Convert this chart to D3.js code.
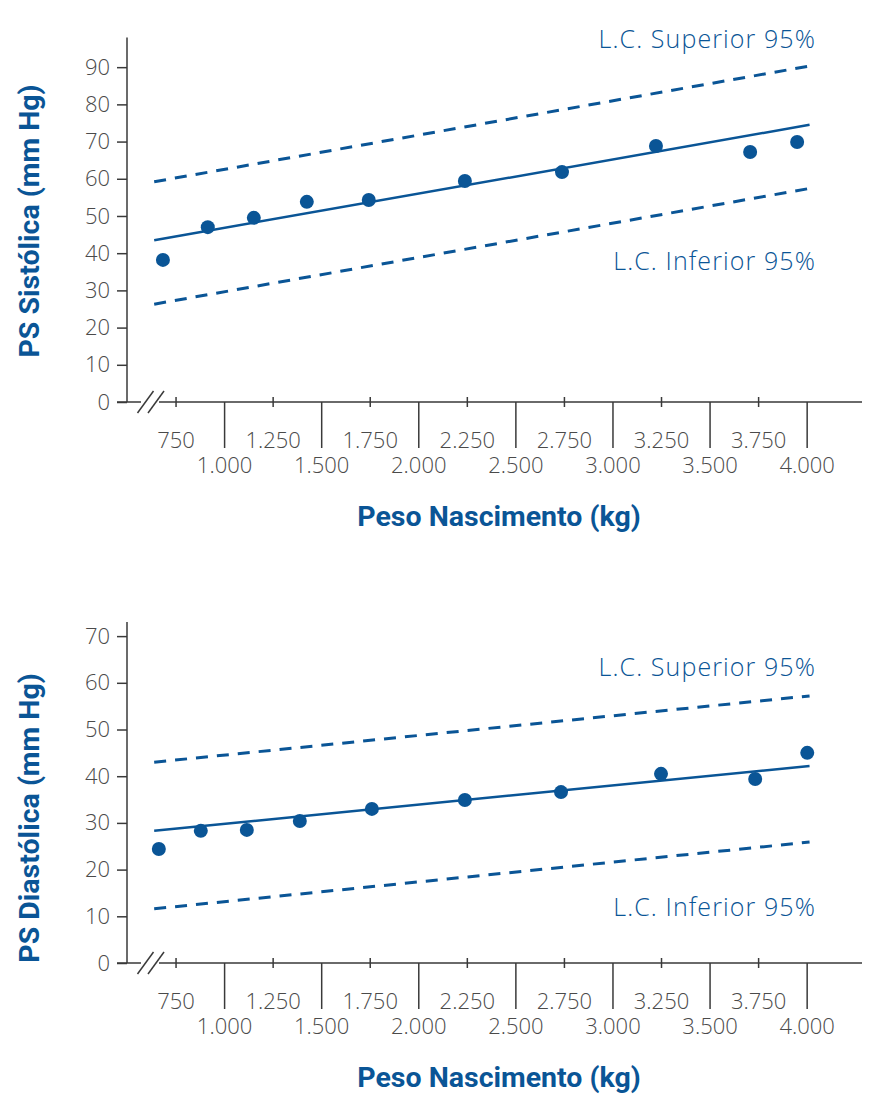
<!DOCTYPE html>
<html>
<head>
<meta charset="utf-8">
<script src="https://cdn.jsdelivr.net/npm/d3@7"></script>
<style>
  body { margin: 0; background: #fff; }
  svg { display: block; }
  .tick text { font-family: "Open Sans", Lato, sans-serif; font-weight: 300; fill: #4a4a4a; }
</style>
</head>
<body>
<div id="chart"></div>
<script>
// --- data ---
const majorTicks = [1000, 1500, 2000, 2500, 3000, 3500, 4000];
const minorTicks = [750, 1250, 1750, 2250, 2750, 3250, 3750];
const sysTicks = [0, 10, 20, 30, 40, 50, 60, 70, 80, 90];
const diaTicks = [0, 10, 20, 30, 40, 50, 60, 70];

const sysWeight = [685, 916, 1153, 1426, 1745, 2240, 2740, 3224, 3709, 3951];
const sysValue = [38.2, 47.0, 49.5, 53.8, 54.3, 59.4, 61.8, 68.8, 67.2, 69.9];
const diaWeight = [664, 880, 1117, 1390, 1761, 2240, 2735, 3250, 3735, 4003];
const diaValue = [24.4, 28.3, 28.5, 30.4, 33.0, 34.9, 36.6, 40.5, 39.4, 45.0];

// regression + 95% limits (ends of each line)
const fitWeight = [640, 4015];
const sysFit = [43.5, 74.5];
const sysUpper = [59.2, 90.3];
const sysLower = [26.3, 57.4];
const diaFit = [28.3, 42.2];
const diaUpper = [43.0, 57.2];
const diaLower = [11.6, 25.9];

const blue = "#0a5596";
const axisColor = "#3a3a3a";

const ptFormat = d3.formatLocale({ decimal: ",", thousands: ".", grouping: [3], currency: ["", ""] }).format(",d");

const svg = d3.select("#chart").append("svg")
  .attr("width", 884)
  .attr("height", 1099);

const x = d3.scaleLinear().domain([500, 4285]).range([127, 862]);

function drawPanel(cfg) {
  const y = d3.scaleLinear().domain([0, cfg.yMax]).range([cfg.base, cfg.top]);
  const g = svg.append("g");

  // y axis
  const yAxis = g.append("g")
    .attr("transform", "translate(127,0)")
    .call(d3.axisLeft(y).tickValues(cfg.yTicks).tickSize(10).tickPadding(7));
  yAxis.select(".domain").attr("stroke", axisColor).attr("stroke-width", 1.5).attr("d", `M0,${cfg.top}V${cfg.base}`);
  yAxis.selectAll(".tick line").attr("stroke", axisColor).attr("stroke-width", 1.5);
  yAxis.selectAll(".tick text").style("font-size", "22px");

  // x axis - major ticks (long, downward)
  const xMajor = g.append("g")
    .attr("transform", `translate(0,${cfg.base})`)
    .call(d3.axisBottom(x).tickValues(majorTicks).tickSize(46).tickFormat(ptFormat));
  xMajor.select(".domain").remove();
  xMajor.selectAll(".tick line").attr("stroke", axisColor).attr("stroke-width", 1.5);
  xMajor.selectAll(".tick text").attr("y", 71).attr("dy", 0).style("font-size", "22px");

  // x axis - minor ticks (short, crossing)
  const xMinor = g.append("g")
    .attr("transform", `translate(0,${cfg.base})`)
    .call(d3.axisBottom(x).tickValues(minorTicks).tickSize(5).tickFormat(ptFormat));
  xMinor.select(".domain").remove();
  xMinor.selectAll(".tick line").attr("y1", -5).attr("y2", 5).attr("stroke", axisColor).attr("stroke-width", 1.5);
  xMinor.selectAll(".tick text").attr("y", 46).attr("dy", 0).style("font-size", "22px");

  // axis baseline with break
  g.append("path")
    .attr("d", `M117,${cfg.base}H141M159,${cfg.base}H862`)
    .attr("stroke", axisColor).attr("stroke-width", 1.5).attr("fill", "none");
  [145.5, 156].forEach(cx => {
    g.append("line")
      .attr("x1", cx - 8).attr("y1", cfg.base + 11)
      .attr("x2", cx + 8).attr("y2", cfg.base - 11)
      .attr("stroke", axisColor).attr("stroke-width", 1.5);
  });

  // lines
  const line = d3.line().x(d => x(d[0])).y(d => y(d[1]));
  const pair = vals => fitWeight.map((w, i) => [w, vals[i]]);
  g.append("path").attr("d", line(pair(cfg.upper)))
    .attr("stroke", blue).attr("stroke-width", 3).attr("stroke-dasharray", "12,9").attr("fill", "none");
  g.append("path").attr("d", line(pair(cfg.lower)))
    .attr("stroke", blue).attr("stroke-width", 3).attr("stroke-dasharray", "12,9").attr("fill", "none");
  g.append("path").attr("d", line(pair(cfg.fit)))
    .attr("stroke", blue).attr("stroke-width", 2.5).attr("fill", "none");

  // points
  g.selectAll("circle.pt")
    .data(cfg.weight.map((w, i) => [w, cfg.values[i]]))
    .enter().append("circle")
    .attr("class", "pt")
    .attr("cx", d => x(d[0]))
    .attr("cy", d => y(d[1]))
    .attr("r", 7)
    .attr("fill", blue);

  // legend labels
  const lbl = (ty, txt) => g.append("text")
    .attr("x", 816).attr("y", ty)
    .attr("text-anchor", "end")
    .style("font-family", "'Open Sans', Lato, sans-serif")
    .style("font-weight", 300)
    .style("font-size", "25px")
    .style("letter-spacing", "1.1px")
    .attr("fill", blue)
    .text(txt);
  lbl(cfg.supY, "L.C. Superior 95%");
  lbl(cfg.infY, "L.C. Inferior 95%");

  // titles
  g.append("text")
    .attr("x", 499).attr("y", cfg.base + 124)
    .attr("text-anchor", "middle")
    .style("font-family", "Roboto, 'Liberation Sans', sans-serif")
    .style("font-weight", 700)
    .style("font-size", "28.5px")
    .attr("fill", blue)
    .text("Peso Nascimento (kg)");

  g.append("text")
    .attr("transform", `translate(39,${cfg.yTitleY}) rotate(-90)`)
    .attr("text-anchor", "middle")
    .style("font-family", "Roboto, 'Liberation Sans', sans-serif")
    .style("font-weight", 700)
    .style("font-size", "28.5px")
    .attr("fill", blue)
    .text(cfg.yTitle);
}

drawPanel({
  base: 402, top: 37.4, yMax: 98, yTicks: sysTicks,
  weight: sysWeight, values: sysValue,
  fit: sysFit, upper: sysUpper, lower: sysLower,
  supY: 48, infY: 270, yTitleY: 221, yTitle: "PS Sistólica (mm Hg)"
});

drawPanel({
  base: 963, top: 622.1, yMax: 73, yTicks: diaTicks,
  weight: diaWeight, values: diaValue,
  fit: diaFit, upper: diaUpper, lower: diaLower,
  supY: 676, infY: 916, yTitleY: 818, yTitle: "PS Diastólica (mm Hg)"
});
</script>
</body>
</html>
